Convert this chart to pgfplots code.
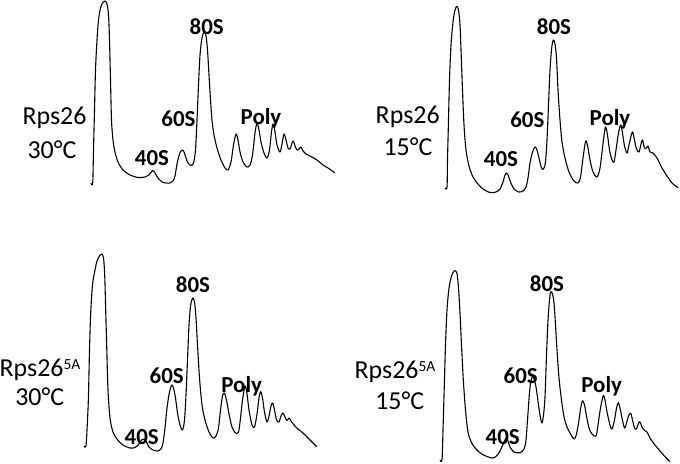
\documentclass[border=0pt]{standalone}
\usepackage{pgfplots}
\pgfplotsset{compat=1.18}
\usepackage{fontspec}
\setmainfont{Carlito}

\newcommand{\lab}[1]{{\fontsize{26}{30}\selectfont #1}}
\newcommand{\pk}[1]{{\fontsize{23}{26}\selectfont\bfseries #1}}
\newcommand{\supfa}{\raisebox{7.3bp}{\fontsize{15.5}{16}\selectfont 5A}}

\pgfplotsset{prof/.style={black, line width=1.1bp, no markers, smooth, tension=0.5, line join=round}}

\begin{document}
\begin{tikzpicture}
\begin{axis}[
    width=680bp, height=463bp, scale only axis,
    xmin=0, xmax=680, ymin=0, ymax=463,
    y dir=reverse,
    hide axis, clip=false,
    every node/.append style={inner sep=0pt, anchor=base},
]

% Rps26, 30 C
\addplot[prof] coordinates {
(91,183) (92.7,183) (93.5,150) (94.5,110) (95.5,70) (97,40) (98.5,20) (100.5,8) (102.5,3) (105,1)
(107,4) (108.5,15) (109.5,40) (110.5,80) (111.5,120) (113,140) (115,152) (118,162) (123,170)
(130,175) (138,177.5) (145,177) (149,175) (152.5,170.5) (155,173) (158,178) (163,182.5) (170,183)
(173,181) (175,176) (177,164) (179.5,154) (182,150) (184,152) (186,158) (188,163) (191,165.5)
(193.5,163) (195.5,150) (197,120) (198.5,85) (200,55) (202,38) (204,32) (206,36) (207.5,50)
(209,75) (210.5,100) (212,120) (214,135) (217,148) (221,160) (225,168) (228,170) (231,162)
(233.5,145) (236,134) (238,140) (240,152) (243,162) (247,167) (250,165) (252.5,155) (255,133)
(257,123) (259,130) (261,142) (264,153) (267,158) (269.5,150) (271.5,132) (273,124) (275,132)
(277,145) (280,152) (282,144) (284,134) (286,140) (288,148) (290,149) (292,143) (293.5,141)
(295,146) (297,150) (299,149) (301,147) (303,151) (306,154) (310,156) (317,160) (323,165)
(328,168) (335,173)
};

% Rps26, 15 C
\addplot[prof] coordinates {
(445,188) (447,187) (447.5,160) (448.5,120) (449.5,80) (451,45) (453,22) (455,10) (456.7,6.5)
(458.5,10) (460,25) (461,50) (462.5,90) (464,125) (466,150) (469,166) (473,177) (478,184)
(483,189) (490,192.5) (496,192) (500,189) (503,182) (505,175) (506.7,173) (508.5,176) (510.5,182)
(514,189) (519,192) (523,191) (526,187) (528,178) (530,163) (532.5,152) (535,147) (537,150)
(539,158) (541.5,168) (543.5,169) (545.5,162) (547,140) (548.5,105) (550,70) (551.7,48)
(553.3,40) (555,44) (556.5,58) (558,90) (560,120) (562,142) (565,158) (569,172) (574,181)
(578,183) (580.5,177) (583,158) (585.7,141) (588,148) (590,160) (593,172) (597,177) (600,168)
(602.5,148) (604.5,132) (605.7,127) (607.5,135) (609.5,150) (612,160) (614,162) (616,150)
(618.5,133) (620.7,125) (622.5,133) (624.5,146) (627,153) (629,145) (631,136) (632.7,132)
(634.5,140) (636.5,149) (639,152) (641,144) (642.5,140) (644.5,148) (646.5,148) (648,146)
(650,152) (653,153) (657,158) (662,168) (667,176) (672,183) (678.3,188)
};

% Rps26-5A, 30 C
\addplot[prof] coordinates {
(84,446) (86,445.5) (87.5,420) (88.5,395) (89.5,350) (90.7,313) (92.5,285) (95,270) (97,261)
(99.5,256) (101.7,254) (103.5,258) (104.7,275) (105.7,310) (106.8,350) (108,390) (110,418)
(113,432) (117,439) (123,445) (130,448) (135,447.5) (138.5,444.5) (141.5,440) (144,439)
(146.5,442) (149,447) (153,450) (158,451) (161,449) (163,443) (165,428) (167,408) (169.3,393)
(171.7,385) (173.5,388) (175.5,398) (177.5,413) (180,425) (182.5,430) (184.5,420) (186,395)
(187.5,360) (189,325) (190.7,305) (192.7,298) (194.5,302) (196,318) (197.5,345) (199.5,378)
(202,405) (205,420) (209,432) (213,438) (216,436) (218.5,428) (220.5,410) (222.5,396)
(224.3,393) (226.5,400) (229,414) (232,427) (235.5,433) (238.5,432) (240.5,418) (242.5,400)
(245,386) (247,394) (249,410) (252,425) (254.5,427) (257,414) (259,398) (260.7,391.7)
(262.5,398) (264.5,412) (267,422) (269,416) (271,406) (272.7,403) (274.5,410) (276.5,420)
(279,422) (281,416) (283,413) (285,417) (287,420.5) (289,418) (291,421) (294,425) (298,429)
(303,433) (309,439) (316.7,446.7)
};

% Rps26-5A, 15 C
\addplot[prof] coordinates {
(440,460) (442,459.5) (443,430) (444,396) (445.5,345) (447,310) (449,288) (451,278) (453,272.5)
(455,270.7) (457,273.5) (458.5,288) (460,313) (461.5,345) (463.3,380) (465.5,410) (468,432)
(471.7,443) (476,449) (481,453.5) (487,456.5) (493,458) (497,455.5) (500,451) (502.7,445)
(506,438.3) (508,441) (510,447) (514,452) (520,452.7) (524,449) (526,440) (527.5,420)
(529.3,395) (530.7,382) (532.7,376.7) (534.5,380) (536.5,390) (538.5,405) (540.5,418) (542,423)
(543.5,415) (545,397) (546.5,355) (548,320) (549.5,300) (550.7,291.7) (552.5,294) (554,303)
(555.5,325) (557,350) (559,378) (561.5,400) (564,416.7) (567,427) (570,433) (574,439)
(576.5,434) (579,420) (581,406) (582.7,400.7) (584.5,405) (586.5,416) (589,428) (592,434)
(596,436) (598,425) (600.5,408) (603.3,395.7) (605,400) (607,412) (610,425) (612,429)
(614.5,420) (616.5,408) (618.3,402.7) (620,408) (622,418) (624.5,428) (626.5,423) (628.5,416)
(630.7,413.3) (632.5,420) (634.5,428) (636.5,429) (638.5,423) (640,422) (642,427) (644,430)
(647,432) (650,438) (655,445) (660,451) (665,456.7) (670,461.7)
};

% panel labels
\node at (axis cs:54.5,118.3) {\lab{Rps26}};
\node at (axis cs:52,150) {\lab{30°C}};
\node at (axis cs:407.7,116.7) {\lab{Rps26}};
\node at (axis cs:408,146.7) {\lab{15°C}};
\node at (axis cs:40,370) {\lab{Rps26\supfa}};
\node at (axis cs:39.7,397) {\lab{30°C}};
\node at (axis cs:395,371.7) {\lab{Rps26\supfa}};
\node at (axis cs:399.7,400.7) {\lab{15°C}};

% peak labels
\node at (axis cs:206.7,26.7) {\pk{80S}};
\node at (axis cs:178.5,118.3) {\pk{60S}};
\node at (axis cs:152,158.3) {\pk{40S}};
\node at (axis cs:261,118.3) {\pk{Poly}};

\node at (axis cs:554,26.7) {\pk{80S}};
\node at (axis cs:527.3,119.3) {\pk{60S}};
\node at (axis cs:501,159.3) {\pk{40S}};
\node at (axis cs:610,119.3) {\pk{Poly}};

\node at (axis cs:193,285) {\pk{80S}};
\node at (axis cs:166.7,375.7) {\pk{60S}};
\node at (axis cs:141.7,436.7) {\pk{40S}};
\node at (axis cs:241.7,386.7) {\pk{Poly}};

\node at (axis cs:547,284) {\pk{80S}};
\node at (axis cs:520.7,375.7) {\pk{60S}};
\node at (axis cs:502.7,436.7) {\pk{40S}};
\node at (axis cs:601.7,386.7) {\pk{Poly}};
\end{axis}
\pgfresetboundingbox
\path (current axis.south west) rectangle (current axis.north east);
\end{tikzpicture}
\end{document}
